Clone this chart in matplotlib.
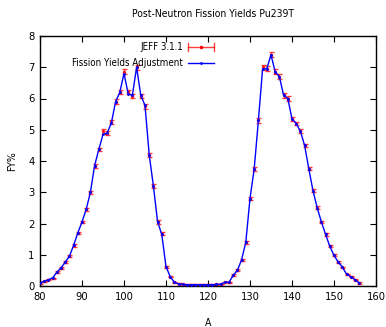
import numpy as np
import matplotlib
matplotlib.use("Agg")
import matplotlib.pyplot as plt
from matplotlib.lines import Line2D

plt.rcParams['font.family'] = ['DejaVu Sans']
plt.rcParams['font.stretch'] = 'condensed'

# mass numbers
mass = list(range(80, 157))

# JEFF 3.1.1 post-neutron yields (FY%)
jeff = [0.10, 0.15, 0.20, 0.25, 0.45, 0.58, 0.76, 0.95, 1.30, 1.70,
        2.05, 2.45, 3.00, 3.85, 4.37, 4.95, 4.90, 5.25, 5.90, 6.20,
        6.85, 6.20, 6.08, 7.00, 6.08, 5.75, 4.20, 3.20, 2.05, 1.68,
        0.62, 0.30, 0.12, 0.08, 0.05, 0.04, 0.04, 0.04, 0.04, 0.04,
        0.04, 0.04, 0.05, 0.06, 0.13, 0.12, 0.35, 0.50, 0.84, 1.40,
        2.80, 3.75, 5.30, 7.00, 6.95, 7.40, 6.85, 6.70, 6.10, 6.00,
        5.35, 5.20, 4.95, 4.50, 3.75, 3.05, 2.50, 2.05, 1.65, 1.27,
        0.98, 0.77, 0.60, 0.38, 0.30, 0.20, 0.10]

jeff_err = [0.02, 0.02, 0.02, 0.02, 0.03, 0.03, 0.03, 0.03, 0.04, 0.04,
            0.04, 0.05, 0.05, 0.06, 0.06, 0.07, 0.07, 0.07, 0.07, 0.07,
            0.08, 0.07, 0.07, 0.08, 0.07, 0.07, 0.06, 0.06, 0.05, 0.05,
            0.03, 0.02, 0.01, 0.01, 0.01, 0.01, 0.01, 0.01, 0.01, 0.01,
            0.01, 0.01, 0.01, 0.01, 0.01, 0.01, 0.02, 0.03, 0.03, 0.04,
            0.05, 0.06, 0.07, 0.08, 0.08, 0.08, 0.08, 0.07, 0.07, 0.07,
            0.06, 0.06, 0.06, 0.06, 0.05, 0.05, 0.05, 0.04, 0.04, 0.03,
            0.03, 0.03, 0.02, 0.02, 0.02, 0.02, 0.02]

# fission yields adjustment
adjust = [0.10, 0.15, 0.20, 0.26, 0.44, 0.58, 0.76, 0.95, 1.30, 1.70,
          2.05, 2.45, 3.00, 3.85, 4.37, 4.85, 4.90, 5.22, 5.90, 6.20,
          6.80, 6.15, 6.10, 7.00, 6.10, 5.78, 4.20, 3.20, 2.05, 1.65,
          0.62, 0.30, 0.12, 0.07, 0.05, 0.04, 0.04, 0.04, 0.04, 0.04,
          0.04, 0.04, 0.05, 0.06, 0.12, 0.12, 0.34, 0.50, 0.84, 1.40,
          2.80, 3.75, 5.30, 6.95, 6.95, 7.40, 6.85, 6.70, 6.10, 6.00,
          5.35, 5.20, 4.95, 4.50, 3.75, 3.05, 2.50, 2.05, 1.65, 1.27,
          0.98, 0.77, 0.60, 0.38, 0.30, 0.20, 0.10]

fig = plt.figure(figsize=(3.86, 3.27), dpi=100)
ax = fig.add_axes([40/386, 41/327, 336/386, 250/327])

ax.errorbar(mass, jeff, yerr=jeff_err, fmt='.', color='#ff0000', ms=3,
            elinewidth=1.0, capsize=1.8, capthick=1.0, alpha=0.75, zorder=2)
ax.plot(mass, adjust, '-', color='#0000ff', lw=1.0, marker='.', ms=2, zorder=3)

ax.set_xlim(80, 160)
ax.set_ylim(0, 8)
ax.set_xticks(range(80, 161, 10))
ax.set_yticks(range(0, 9))
ax.tick_params(direction='in', top=True, right=True, length=4, width=0.8,
               labelsize=8, pad=4)
for s in ax.spines.values():
    s.set_linewidth(1.0)

ax.set_xlabel('A', fontsize=7.5, labelpad=12)
ax.set_ylabel('FY%', fontsize=7.5, labelpad=8)
fig.text(213/386, 1 - 14/327, 'Post-Neutron Fission Yields Pu239T',
         ha='center', va='center', fontsize=7.5)

# gnuplot-style key: text right aligned, sample to the right
y1 = 1 - 47/327
y2 = 1 - 63/327
fig.text(183/386, y1, 'JEFF 3.1.1', ha='right', va='center', fontsize=7)
fig.text(183/386, y2, 'Fission Yields Adjustment', ha='right', va='center',
         fontsize=7)
x0, x1 = 188/386, 214/386
fig.add_artist(Line2D([x0, x1], [y1, y1], color='#ff0000', lw=1.0, alpha=0.75))
fig.add_artist(Line2D([x0, x0], [y1 - 4/327, y1 + 4/327], color='#ff0000', lw=1.0, alpha=0.75))
fig.add_artist(Line2D([x1, x1], [y1 - 4/327, y1 + 4/327], color='#ff0000', lw=1.0, alpha=0.75))
fig.add_artist(Line2D([(x0 + x1) / 2], [y1], color='#ff0000', marker='.', ms=3, lw=0))
fig.add_artist(Line2D([x0, x1], [y2, y2], color='#0000ff', lw=1.0))
fig.add_artist(Line2D([(x0 + x1) / 2], [y2], color='#0000ff', marker='.', ms=2, lw=0))

fig.savefig('out.png', dpi=100)
